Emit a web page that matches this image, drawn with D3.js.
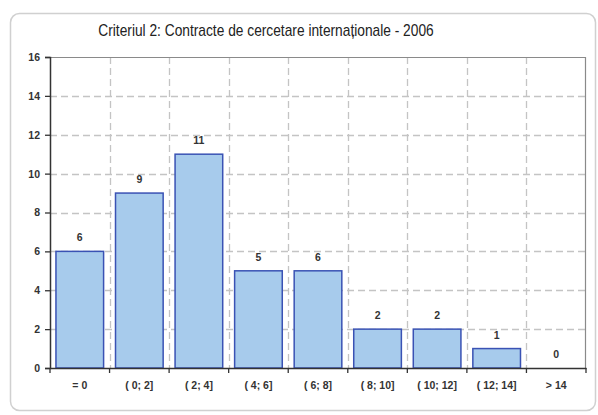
<!DOCTYPE html>
<head>
  <meta charset="utf-8">
  <script src="https://d3js.org/d3.v7.min.js"></script>
</head>
<style>
  body { margin: 0; background: #fff; }
  text { font-family: "Liberation Sans", Arial, sans-serif; }
</style>
<body>
<script>
var categories = ["= 0", "( 0; 2]", "( 2; 4]", "( 4; 6]", "( 6; 8]", "( 8; 10]", "( 10; 12]", "( 12; 14]", "> 14"];
var values = [6, 9, 11, 5, 5, 2, 2, 1, 0];
var valueLabels = ["6", "9", "11", "5", "6", "2", "2", "1", "0"];
var yTicks = [0, 2, 4, 6, 8, 10, 12, 14, 16];
var title = "Criteriul 2:  Contracte de cercetare internaționale - 2006";

var W = 598, H = 415,
    margin = {top: 57, right: 12, bottom: 47, left: 50},
    width = W - margin.left - margin.right,
    height = H - margin.top - margin.bottom;

var svg = d3.select("body").append("svg")
    .attr("width", W)
    .attr("height", H);

// outer frame
svg.append("rect")
    .attr("x", 10.5).attr("y", 13.5)
    .attr("width", 585).attr("height", 397)
    .attr("rx", 9)
    .attr("fill", "#fff")
    .attr("stroke", "#d0d0d0")
    .attr("stroke-width", 1.5);

// title, condensed like the original narrow face
svg.append("text")
    .attr("transform", "translate(266,36) scale(0.86,1)")
    .attr("text-anchor", "middle")
    .style("font-size", "16px")
    .attr("fill", "#222")
    .text(title);

var g = svg.append("g")
    .attr("transform", "translate(" + margin.left + "," + margin.top + ")");

var x = d3.scaleBand()
    .domain(categories)
    .range([0, width])
    .paddingInner(0.2)
    .paddingOuter(0.1);

var y = d3.scaleLinear()
    .domain([0, 16])
    .range([height, 0]);

var step = x.step();

// horizontal grid
g.selectAll(".hgrid")
    .data(yTicks.filter(function(d) { return d > 0 && d < 16; }))
  .enter().append("line")
    .attr("x1", 0).attr("x2", width)
    .attr("y1", function(d) { return Math.round(y(d)) + 0.5; })
    .attr("y2", function(d) { return Math.round(y(d)) + 0.5; })
    .attr("stroke", "#c4c4c4")
    .attr("stroke-width", 1.3)
    .attr("stroke-dasharray", "7,4");

// vertical grid at category boundaries
g.selectAll(".vgrid")
    .data(categories.slice(1))
  .enter().append("line")
    .attr("x1", function(d) { return Math.round(x(d) - step * 0.1) + 0.5; })
    .attr("x2", function(d) { return Math.round(x(d) - step * 0.1) + 0.5; })
    .attr("y1", 0).attr("y2", height)
    .attr("stroke", "#c4c4c4")
    .attr("stroke-width", 1.3)
    .attr("stroke-dasharray", "7,4");

// plot frame top & right
g.append("path")
    .attr("d", "M0,0.5H" + (width - 0.5) + "V" + height)
    .attr("fill", "none")
    .attr("stroke", "#8a8a8a")
    .attr("stroke-width", 1.2);

// bars
g.selectAll(".bar")
    .data(values)
  .enter().append("rect")
    .attr("x", function(d, i) { return x(categories[i]); })
    .attr("y", function(d) { return y(d); })
    .attr("width", x.bandwidth())
    .attr("height", function(d) { return height - y(d); })
    .attr("fill", "#a7cbec")
    .attr("stroke", "#3a52b4")
    .attr("stroke-width", 1.5)
    .style("display", function(d) { return d > 0 ? null : "none"; });

// value labels
g.selectAll(".vlab")
    .data(values)
  .enter().append("text")
    .attr("x", function(d, i) { return x(categories[i]) + x.bandwidth() / 2; })
    .attr("y", function(d) { return y(d) - 10; })
    .attr("text-anchor", "middle")
    .style("font-size", "10.5px")
    .style("font-weight", "bold")
    .attr("fill", "#333")
    .text(function(d, i) { return valueLabels[i]; });

// y axis
var yAxis = g.append("g")
    .call(d3.axisLeft(y).tickValues(yTicks).tickSize(5).tickPadding(5));
yAxis.select(".domain").attr("stroke", "#333").attr("stroke-width", 1.5);
yAxis.selectAll(".tick line").attr("stroke", "#333").attr("stroke-width", 1.3);
yAxis.selectAll("text")
    .style("font-size", "10.5px")
    .style("font-weight", "bold")
    .attr("fill", "#333");

// x axis: ticks at category boundaries
var xAxis = g.append("g")
    .attr("transform", "translate(0," + height + ")")
    .call(d3.axisBottom(x).tickSize(0).tickPadding(14));
xAxis.select(".domain").attr("stroke", "#333").attr("stroke-width", 1.5);
xAxis.selectAll("text")
    .style("font-size", "10.5px")
    .style("font-weight", "bold")
    .attr("fill", "#333");

xAxis.selectAll(".btick")
    .data(d3.range(categories.length + 1))
  .enter().append("line")
    .attr("x1", function(i) { return i * step; })
    .attr("x2", function(i) { return i * step; })
    .attr("y1", 0).attr("y2", 5)
    .attr("stroke", "#333")
    .attr("stroke-width", 1.3);
</script>
</body>
